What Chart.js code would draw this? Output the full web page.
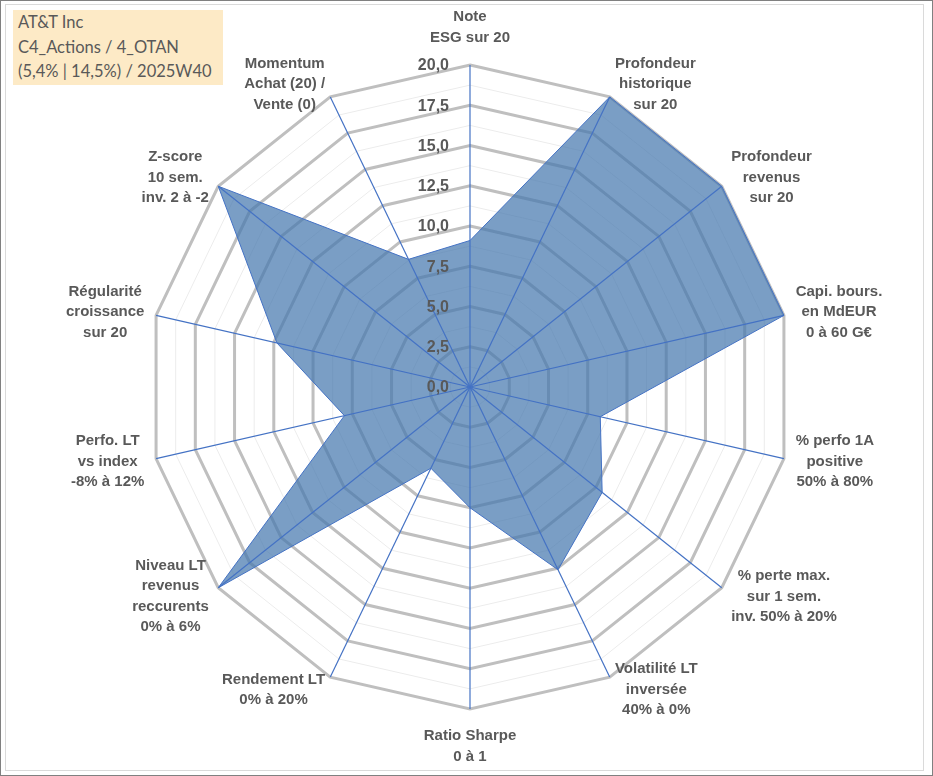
<!DOCTYPE html>
<html>
<head>
<meta charset="utf-8">
<script src="https://cdn.jsdelivr.net/npm/chart.js@4/dist/chart.umd.min.js"></script>
<style>
  html, body { margin: 0; padding: 0; background: #ffffff; }
  #wrap { position: relative; width: 933px; height: 776px; overflow: hidden; }
  #c { position: absolute; left: 0; top: 0; }
  #outer { position: absolute; left: 0; top: 0; width: 931px; height: 774px; border: 1px solid #808080; pointer-events: none; }
  #inner { position: absolute; left: 5px; top: 4px; width: 917px; height: 765px; border: 1px solid #dadada; pointer-events: none; }
  #title { position: absolute; left: 13px; top: 10px; width: 205px; height: 75px; padding-left: 5px;
           background: #fdeac6; color: #595959; font-family: Lato, "Open Sans", sans-serif; font-size: 16.5px;
           line-height: 24.5px; white-space: nowrap; }
</style>
</head>
<body>
<div id="wrap">
  <canvas id="c" width="933" height="776"></canvas>
  <div id="outer"></div>
  <div id="inner"></div>
  <div id="title">AT&amp;T Inc<br>C4_Actions / 4_OTAN<br>(5,4% | 14,5%) / 2025W40</div>
</div>
<script>
// ---- data ----
const categories = [
  ["Note", "ESG sur 20"],
  ["Profondeur", "historique", "sur 20"],
  ["Profondeur", "revenus", "sur 20"],
  ["Capi. bours.", "en MdEUR", "0 à 60 G€"],
  ["% perfo 1A", "positive", "50% à 80%"],
  ["% perte max.", "sur 1 sem.", "inv. 50% à 20%"],
  ["Volatilité LT", "inversée", "40% à 0%"],
  ["Ratio Sharpe", "0 à 1"],
  ["Rendement LT", "0% à 20%"],
  ["Niveau LT", "revenus", "reccurents", "0% à 6%"],
  ["Perfo. LT", "vs index", "-8% à 12%"],
  ["Régularité", "croissance", "sur 20"],
  ["Z-score", "10 sem.", "inv. 2 à -2"],
  ["Momentum", "Achat (20) /", "Vente (0)"]
];
const scores = [9.1, 20, 20, 20, 8.3, 10.5, 12.6, 7.5, 5.6, 20, 8.0, 12.3, 20, 8.8];
const tickValues = [0, 2.5, 5, 7.5, 10, 12.5, 15, 17.5, 20];
const scaleMax = 20;
const gridStep = 1.25;

const LABEL_COLOR = '#595959';
const AXIS_BLUE = '#4472C4';
const LABEL_FONT = '"Liberation Sans", Arial, Helvetica, sans-serif';

const overlayPlugin = {
  id: 'overlay',
  afterDatasetsDraw(chart) {
    const ctx = chart.ctx;
    const s = chart.scales.r;
    const n = chart.data.labels.length;
    ctx.save();
    // spokes (drawn above the fill, as in the reference)
    ctx.strokeStyle = AXIS_BLUE;
    ctx.lineWidth = 1.2;
    for (let i = 0; i < n; i++) {
      const p = s.getPointPosition(i, s.drawingArea);
      ctx.beginPath();
      ctx.moveTo(s.xCenter, s.yCenter);
      ctx.lineTo(p.x, p.y);
      ctx.stroke();
    }
    // tick labels left of the vertical axis
    ctx.fillStyle = LABEL_COLOR;
    ctx.font = 'bold 16px ' + LABEL_FONT;
    ctx.textAlign = 'right';
    ctx.textBaseline = 'middle';
    tickValues.forEach(v => {
      const y = s.yCenter - s.getDistanceFromCenterForValue(v);
      ctx.fillText(v.toFixed(1).replace('.', ','), s.xCenter - 21, y + 1);
    });
    // category labels
    ctx.font = 'bold 15px ' + LABEL_FONT;
    ctx.textAlign = 'center';
    const lh = 20.5;
    for (let i = 0; i < n; i++) {
      const lines = chart.data.labels[i];
      const p = s.getPointPosition(i, s.drawingArea);
      const ang = (2 * Math.PI * i) / n;
      const dx = Math.sin(ang), dy = -Math.cos(ang);
      let w = 0;
      lines.forEach(t => { w = Math.max(w, ctx.measureText(t).width); });
      const h = lines.length * lh;
      let cx, cy;
      if (Math.abs(dx) < 0.05) {
        cx = p.x;
        cy = p.y + dy * (h / 2 + 17);
      } else {
        cx = p.x + dx * 12 + Math.sign(dx) * w / 2;
        cy = p.y + dy * 14;
      }
      lines.forEach((t, k) => {
        ctx.fillText(t, cx, cy - h / 2 + lh * (k + 0.5));
      });
    }
    ctx.restore();
  }
};

new Chart(document.getElementById('c'), {
  type: 'radar',
  data: {
    labels: categories,
    datasets: [{
      data: scores,
      backgroundColor: 'rgba(70,120,175,0.72)',
      borderColor: AXIS_BLUE,
      borderWidth: 1,
      pointRadius: 0,
      pointHoverRadius: 0,
      fill: true,
      tension: 0
    }]
  },
  options: {
    responsive: false,
    animation: false,
    devicePixelRatio: 1,
    layout: { padding: { left: 148, right: 141, top: 65, bottom: 67 } },
    plugins: { legend: { display: false }, tooltip: { enabled: false } },
    scales: {
      r: {
        min: 0,
        max: scaleMax,
        startAngle: 0,
        ticks: { display: false, stepSize: gridStep },
        pointLabels: { display: false },
        angleLines: { display: false },
        grid: {
          circular: false,
          color: c => (c.tick && Math.round(c.tick.value / gridStep) % 2 === 0) ? '#bfbfbf' : '#ececec',
          lineWidth: c => (c.tick && Math.round(c.tick.value / gridStep) % 2 === 0) ? 3 : 1
        }
      }
    }
  },
  plugins: [overlayPlugin]
});
</script>
</body>
</html>
